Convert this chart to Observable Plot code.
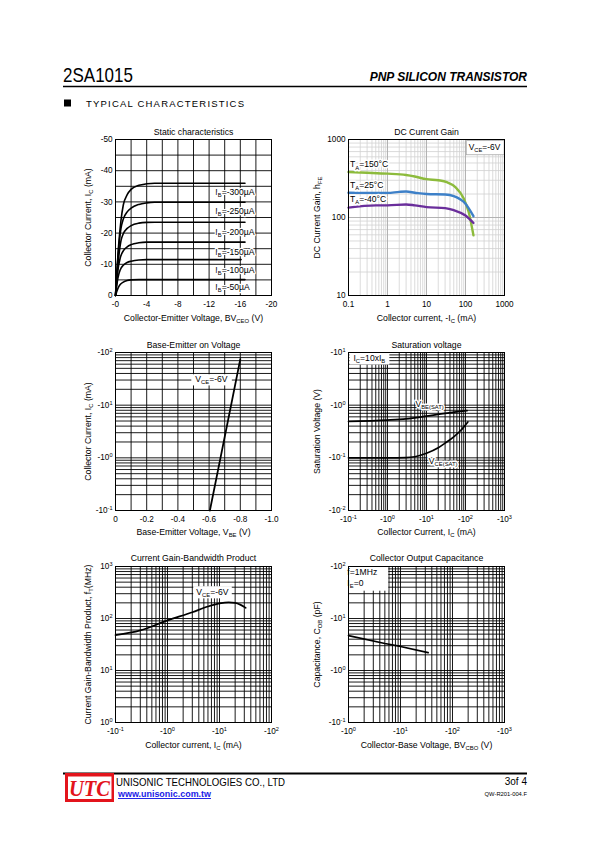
<!DOCTYPE html>
<html><head><meta charset="utf-8">
<script src="https://cdn.jsdelivr.net/npm/d3@7"></script>
<script src="https://cdn.jsdelivr.net/npm/@observablehq/plot@0.6"></script>
<style>
html,body{margin:0;padding:0;background:#fff;}
#page{position:relative;width:595px;height:842px;overflow:hidden;font-family:"Liberation Sans",Arial,Helvetica,sans-serif;}
.chart{position:absolute;}
.chart svg{overflow:visible;}
</style></head><body><div id="page"></div>
<script>
// ---------------- DATA ----------------
// Static characteristics (|VCE| V, |IC| mA)
const staticIB = ["-300", "-250", "-200", "-150", "-100", "-50"];
const vce300 = [0, 0.4, 0.7, 1.0, 1.5, 2, 3, 4, 5, 16.6];
const ic300  = [0, 16, 24, 29, 32.3, 34, 35.3, 35.8, 36, 36];
const vce250 = [0, 0.4, 0.7, 1.0, 1.5, 2, 3, 4, 5, 16.6];
const ic250  = [0, 15, 21.5, 24.5, 26.8, 28, 29.2, 29.7, 29.9, 29.9];
const vce200 = [0, 0.4, 0.7, 1.0, 1.5, 2, 3, 4, 5, 16.6];
const ic200  = [0, 12, 17.5, 19.8, 21.5, 22.4, 23.2, 23.45, 23.5, 23.5];
const vce150 = [0, 0.3, 0.6, 1.0, 1.5, 2, 3, 4, 16.6];
const ic150  = [0, 8, 12, 14.3, 15.6, 16.3, 16.9, 17.1, 17.1];
const vce100 = [0, 0.3, 0.6, 1.0, 1.5, 2, 3, 4, 16.1];
const ic100  = [0, 5.5, 8.2, 9.7, 10.6, 11, 11.4, 11.5, 11.5];
const vce50  = [0, 0.3, 0.6, 1.0, 1.5, 2, 3, 16.6];
const ic50   = [0, 2.2, 3.5, 4.3, 4.8, 5, 5.1, 5.1];
const staticLabelY = [33.1, 26.9, 20.3, 13.9, 8.0, 2.7];
const staticXTicks = [0, 4, 8, 12, 16, 20];
const staticXLabels = ["-0", "-4", "-8", "-12", "-16", "-20"];
const staticYTicks = [0, 10, 20, 30, 40, 50];
const staticYLabels = ["0", "-10", "-20", "-30", "-40", "-50"];

// DC current gain (-IC mA, hFE)
const gainTemps = ["150", "25", "-40"];
const gainIc150 = [0.1, 0.3, 1, 3, 5, 10, 20, 33, 55, 90, 121, 160];
const gainH150  = [383, 375, 365, 350, 335, 310, 300, 285, 245, 175, 117, 59];
const gainIc25  = [0.1, 0.3, 1, 2, 3, 5, 10, 30, 50, 100, 160];
const gainH25   = [208, 207, 207, 213, 215, 208, 200, 197, 188, 150, 104];
const gainIcM40 = [0.1, 0.5, 1, 3, 5, 10, 30, 50, 100, 160];
const gainHM40  = [134, 143, 143, 147, 143, 136, 132, 124, 106, 85];
const gainColors = ["#8dbb3c", "#3d80c8", "#6a2e9b"];
const gainLabelY = [475, 259, 171];
const gainXTicks = [0.1, 1, 10, 100, 1000];
const gainXLabels = ["0.1", "1", "10", "100", "1000"];
const gainYTicks = [10, 100, 1000];
const gainYLabels = ["10", "100", "1000"];

// Base-emitter on voltage (|VBE| V, |IC| mA)
const beVbe = [0.605, 0.673, 0.741, 0.80];
const beIc  = [0.1, 1, 10, 75];
const beXTicks = [0, 0.2, 0.4, 0.6, 0.8, 1.0];
const beXLabels = ["0", "-0.2", "-0.4", "-0.6", "-0.8", "-1.0"];
const logTicks4 = [0.1, 1, 10, 100];
const beYLabels = ["-10^{-1}", "-10^{0}", "-10^{1}", "-10^{2}"];

// Saturation voltage (|IC| mA, |V| V)
const vbeSatIc = [0.1, 1, 3, 10, 30, 110];
const vbeSatV  = [0.49, 0.52, 0.55, 0.62, 0.70, 0.79];
const vceSatIc = [0.1, 1, 3, 5, 10, 20, 30, 50, 75, 115];
const vceSatV  = [0.1, 0.1, 0.101, 0.105, 0.122, 0.155, 0.19, 0.25, 0.33, 0.48];
const satXTicks = [0.1, 1, 10, 100, 1000];
const satXLabels = ["-10^{-1}", "-10^{0}", "-10^{1}", "-10^{2}", "-10^{3}"];
const satYTicks = [0.01, 0.1, 1, 10];
const satYLabels = ["-10^{-2}", "-10^{-1}", "-10^{0}", "-10^{1}"];

// Current gain-bandwidth product (|IC| mA, fT MHz)
const ftIc = [0.1, 0.3, 1, 3, 6, 10, 15, 20, 25, 32];
const ftF  = [48, 59, 92, 132, 170, 195, 205, 200, 185, 160];
const ftXTicks = [0.1, 1, 10, 100];
const ftXLabels = ["-10^{-1}", "-10^{0}", "-10^{1}", "-10^{2}"];
const ftYTicks = [1, 10, 100, 1000];
const ftYLabels = ["10^{0}", "10^{1}", "10^{2}", "10^{3}"];

// Collector output capacitance (|VCB| V, Cob pF)
const cobV = [1, 5, 10, 34];
const cobC = [4.7, 3.3, 2.9, 2.2];
const cobXTicks = [1, 10, 100, 1000];
const cobXLabels = ["-10^{0}", "-10^{1}", "-10^{2}", "-10^{3}"];
const cobYTicks = [0.1, 1, 10, 56, 100];
const cobYLabels = ["-10^{-1}", "-10^{0}", "-10^{1}", "-10^{-1}", "-10^{2}"];
const cobNotes = ["f=1MHz", "I_{E}=0"];
const cobNoteY = [77.6, 48.6];

// ---------------- HELPERS ----------------
const NS = "http://www.w3.org/2000/svg";
const FONT = '"Liberation Sans", Arial, Helvetica, sans-serif';
const page = document.getElementById("page");

function decades(lo, hi) {
  const out = [];
  for (let e = lo; e < hi; e++) for (let k = 1; k < 10; k++) out.push(+(k * Math.pow(10, e)).toPrecision(6));
  out.push(Math.pow(10, hi));
  return out;
}
function steps(lo, hi, n) { const out = []; for (let i = 0; i <= n; i++) out.push(lo + (hi - lo) * i / n); return out; }

function richify(svg) {
  for (const t of svg.querySelectorAll("text")) {
    const targets = t.querySelector("tspan") ? [...t.querySelectorAll("tspan")] : [t];
    for (const n of targets) {
      const s = n.textContent;
      if (!/[_^]\{/.test(s)) continue;
      const fs = parseFloat(getComputedStyle(n).fontSize) || 8;
      while (n.firstChild) n.removeChild(n.firstChild);
      const re = /([_^])\{([^}]*)\}/g;
      let last = 0, m, cur = 0;
      const add = (str, off, small) => {
        const ts = document.createElementNS(NS, "tspan");
        if (small) ts.setAttribute("font-size", (fs * 0.68).toFixed(2));
        if (Math.abs(off - cur) > 1e-6) ts.setAttribute("dy", (off - cur).toFixed(2));
        cur = off;
        ts.textContent = str;
        n.appendChild(ts);
      };
      while ((m = re.exec(s))) {
        if (m.index > last) add(s.slice(last, m.index), 0, false);
        add(m[2], m[1] === "_" ? fs * 0.25 : -fs * 0.38, true);
        last = re.lastIndex;
      }
      if (last < s.length) add(s.slice(last), 0, false);
    }
  }
}

// boxed annotations are tagged with a distinct (visually black) constant fill
const boxSpecs = {
  "#000001": {l: 2.5, r: 3.5, t: 1.5, b: 1.5, stroke: "#aaa"},
  "#000002": {l: 4, r: 4, t: 0, b: 0},
  "#000003": {l: 3, r: 3, t: 0.5, b: 0.5},
  "#000004": {l: 4, r: 4, t: 1, b: 0.5},
  "#000005": {l: 0, r: 11, t: 1.5, b: 2}
};
function boxify(svg) {
  for (const [col, spec] of Object.entries(boxSpecs)) {
    for (const g of svg.querySelectorAll(`g[fill='${col}']`)) {
      const b = g.getBBox();
      if (!b.width) continue;
      const r = document.createElementNS(NS, "rect");
      r.setAttribute("x", b.x - spec.l);
      r.setAttribute("y", b.y - spec.t);
      r.setAttribute("width", b.width + spec.l + spec.r);
      r.setAttribute("height", b.height + spec.t + spec.b);
      r.setAttribute("fill", "white");
      r.setAttribute("stroke", spec.stroke || "none");
      r.setAttribute("stroke-width", "0.8");
      g.insertBefore(r, g.firstChild);
    }
  }
}

function chart(o) {
  const ML = 62, MR = 28, MT = 26, MB = 42;
  const fw = o.fr - o.fl, fh = o.fb - o.ft;
  const fmt = (vals, labels) => { const m = new Map(vals.map((v, i) => [v, labels[i]])); return d => m.has(d) ? m.get(d) : ""; };
  const gc = o.gridColor || "#000", gw = o.gridWidth || 0.9;
  const fig = Plot.plot({
    width: ML + fw + MR, height: MT + fh + MB,
    marginLeft: ML, marginRight: MR, marginTop: MT, marginBottom: MB,
    x: o.x, y: o.y,
    style: {fontFamily: FONT, fontSize: "8.2px", color: "black", background: "transparent", overflow: "visible"},
    marks: [
      Plot.ruleX(o.gridX, {stroke: gc, strokeWidth: gw}),
      Plot.ruleY(o.gridY, {stroke: gc, strokeWidth: gw}),
      o.gridXMajor ? Plot.ruleX(o.gridXMajor, {stroke: o.majorColor, strokeWidth: gw}) : null,
      o.gridYMajor ? Plot.ruleY(o.gridYMajor, {stroke: o.majorColor, strokeWidth: gw}) : null,
      ...o.marks,
      Plot.frame({stroke: "black", strokeWidth: 1}),
      Plot.axisX(o.xTicks, {tickFormat: fmt(o.xTicks, o.xLabels), tickSize: 0, tickPadding: 5.5, label: null, fontSize: 8.2}),
      Plot.axisY(o.yTicks, {tickFormat: fmt(o.yTicks, o.yLabels), tickSize: 0, tickPadding: 3, label: null, fontSize: 8.2}),
      Plot.text([o.title], {frameAnchor: "top", dy: o.titleDy, fontSize: 8.7}),
      Plot.text([o.xTitle], {frameAnchor: "bottom", dy: o.xTitleDy, fontSize: 8.7}),
      Plot.text([o.yTitle], {frameAnchor: "left", textAnchor: "middle", dx: o.yTitleDx, rotate: -90, fontSize: 8.7})
    ]
  });
  const d = document.createElement("div");
  d.className = "chart";
  d.style.left = (o.fl - ML) + "px";
  d.style.top = (o.ft - MT) + "px";
  d.appendChild(fig);
  page.appendChild(d);
  richify(fig);
  boxify(fig);
}

const L = {fl: 115, fr: 271}, R = {fl: 348, fr: 504};
const R1 = {ft: 139, fb: 295, titleDy: -10.5, xTitleDy: 25}, R2 = {ft: 352, fb: 510, titleDy: -11, xTitleDy: 24.5}, R3 = {ft: 566, fb: 722, titleDy: -12, xTitleDy: 25.5};

// ---------------- 1. Static characteristics ----------------
const staticCurves = [[vce300, ic300], [vce250, ic250], [vce200, ic200], [vce150, ic150], [vce100, ic100], [vce50, ic50]];
const staticRows = staticCurves.flatMap(([vs, is], k) => vs.map((v, i) => ({ib: staticIB[k], v, i: is[i]})));
const staticLabels = staticIB.map((s, k) => ({t: "I_{B}=" + s + "µA", y: staticLabelY[k]}));
chart({...L, ...R1, yTitleDx: -27,
  x: {type: "linear", domain: [0, 20]}, y: {type: "linear", domain: [0, 50]},
  gridX: steps(0, 20, 10), gridY: steps(0, 50, 10),
  xTicks: staticXTicks, xLabels: staticXLabels, yTicks: staticYTicks, yLabels: staticYLabels,
  title: "Static characteristics", xTitle: "Collector-Emitter Voltage, BV_{CEO} (V)", yTitle: "Collector Current, I_{C} (mA)",
  marks: [
    Plot.line(staticRows, {x: "v", y: "i", z: "ib", stroke: "black", strokeWidth: 1.6, curve: "monotone-x"}),
    Plot.text(staticLabels, {x: 12.8, y: "y", text: "t", textAnchor: "start", fontSize: 8.6, fill: "black", stroke: "white", strokeWidth: 2.5})
  ]
});

// ---------------- 2. DC current gain ----------------
const gainCurves = [[gainIc150, gainH150], [gainIc25, gainH25], [gainIcM40, gainHM40]];
const gainRows = gainCurves.flatMap(([xs, ys], k) => xs.map((x, i) => ({t: gainTemps[k], x, y: ys[i]})));
const gainLabels = gainTemps.map((t, k) => ({t: "T_{A}=" + t + "°C", y: gainLabelY[k]}));
chart({...R, ...R1, yTitleDx: -31,
  x: {type: "log", domain: [0.1, 1000]}, y: {type: "log", domain: [10, 1000]},
  gridX: decades(-1, 3), gridY: decades(1, 3), gridColor: "#d2d2d2", gridWidth: 0.8,
  gridXMajor: gainXTicks, gridYMajor: gainYTicks, majorColor: "#a8a8a8",
  xTicks: gainXTicks, xLabels: gainXLabels, yTicks: gainYTicks, yLabels: gainYLabels,
  title: "DC Current Gain", xTitle: "Collector current, -I_{C} (mA)", yTitle: "DC Current Gain, h_{FE}",
  marks: [
    Plot.line(gainRows, {x: "x", y: "y", z: "t", stroke: d => gainColors[gainTemps.indexOf(d.t)], strokeWidth: 2.4, curve: "monotone-x"}),
    Plot.text(gainLabels, {x: 0.1, y: "y", dx: 1.5, text: "t", textAnchor: "start", fontSize: 8.6, fill: "black", stroke: "white", strokeWidth: 3}),
    Plot.text(["V_{CE}=-6V"], {x: 307, y: 791, fontSize: 8.4, fill: "#000001"})
  ]
});

// ---------------- 3. Base-Emitter on voltage ----------------
const beRows = beVbe.map((v, i) => ({v, i: beIc[i]}));
chart({...L, ...R2, yTitleDx: -27,
  x: {type: "linear", domain: [0, 1]}, y: {type: "log", domain: [0.1, 100]},
  gridX: steps(0, 1, 10), gridY: decades(-1, 2),
  xTicks: beXTicks, xLabels: beXLabels, yTicks: logTicks4, yLabels: beYLabels,
  title: "Base-Emitter on Voltage", xTitle: "Base-Emitter Voltage, V_{BE} (V)", yTitle: "Collector Current, I_{C} (mA)",
  marks: [
    Plot.line(beRows, {x: "v", y: "i", stroke: "black", strokeWidth: 1.8}),
    Plot.text(["V_{CE}=-6V"], {x: 0.615, y: 30.7, fontSize: 8.6, fill: "#000002"})
  ]
});

// ---------------- 4. Saturation voltage ----------------
const satRows = [
  ...vbeSatIc.map((x, i) => ({s: "vbe", x, y: vbeSatV[i]})),
  ...vceSatIc.map((x, i) => ({s: "vce", x, y: vceSatV[i]}))
];
chart({...R, ...R2, yTitleDx: -31,
  x: {type: "log", domain: [0.1, 1000]}, y: {type: "log", domain: [0.01, 10]},
  gridX: decades(-1, 3), gridY: decades(-2, 1),
  xTicks: satXTicks, xLabels: satXLabels, yTicks: satYTicks, yLabels: satYLabels,
  title: "Saturation voltage", xTitle: "Collector Current, I_{C} (mA)", yTitle: "Saturation Voltage (V)",
  marks: [
    Plot.line(satRows, {x: "x", y: "y", z: "s", stroke: "black", strokeWidth: 1.7, curve: "monotone-x"}),
    Plot.text(["V_{BE(SAT)}", "V_{CE(SAT)}"], {x: [5.2, 11.5], y: [1.06, 0.085], textAnchor: "start", fontSize: 8.6, fill: "black", stroke: "white", strokeWidth: 3}),
    Plot.text(["I_{C}=10xI_{B}"], {x: 0.134, y: 7.8, textAnchor: "start", fontSize: 8.6, fill: "#000004"})
  ]
});

// ---------------- 5. Current gain-bandwidth product ----------------
const ftRows = ftIc.map((x, i) => ({x, y: ftF[i]}));
chart({...L, ...R3, yTitleDx: -27,
  x: {type: "log", domain: [0.1, 100]}, y: {type: "log", domain: [1, 1000]},
  gridX: decades(-1, 2), gridY: decades(0, 3),
  xTicks: ftXTicks, xLabels: ftXLabels, yTicks: ftYTicks, yLabels: ftYLabels,
  title: "Current Gain-Bandwidth Product", xTitle: "Collector current, I_{C} (mA)", yTitle: "Current Gain-Bandwidth Product, f_{T}(MHz)",
  marks: [
    Plot.line(ftRows, {x: "x", y: "y", stroke: "black", strokeWidth: 1.7, curve: "monotone-x"}),
    Plot.text(["V_{CE}=-6V"], {x: 7.3, y: 324, fontSize: 8.6, fill: "#000003"})
  ]
});

// ---------------- 6. Collector output capacitance ----------------
const cobRows = cobV.map((x, i) => ({x, y: cobC[i]}));
chart({...R, ...R3, yTitleDx: -31,
  x: {type: "log", domain: [1, 1000]}, y: {type: "log", domain: [0.1, 100]},
  gridX: decades(0, 3), gridY: decades(-1, 2),
  xTicks: cobXTicks, xLabels: cobXLabels, yTicks: cobYTicks, yLabels: cobYLabels,
  title: "Collector Output Capacitance", xTitle: "Collector-Base Voltage, BV_{CBO} (V)", yTitle: "Capacitance, C_{OB} (pF)",
  marks: [
    Plot.line(cobRows, {x: "x", y: "y", stroke: "black", strokeWidth: 1.7}),
    Plot.text(cobNotes, {x: 0.95, y: cobNoteY, textAnchor: "start", fontSize: 8.6, fill: "#000005"})
  ]
});

// ---------------- Header & footer ----------------
const hf = document.createElementNS(NS, "svg");
hf.setAttribute("width", 595); hf.setAttribute("height", 842);
hf.setAttribute("style", "position:absolute;left:0;top:0;pointer-events:none");
hf.innerHTML = `
<g font-family='"Liberation Sans", Arial, sans-serif' fill="black">
  <text x="63" y="82" font-size="21" textLength="70" lengthAdjust="spacingAndGlyphs">2SA1015</text>
  <text x="527" y="81" font-size="12" font-weight="bold" font-style="italic" text-anchor="end">PNP SILICON TRANSISTOR</text>
  <line x1="63" x2="527" y1="86.5" y2="86.5" stroke="black" stroke-width="1.4"/>
  <rect x="64" y="99.5" width="7" height="7"/>
  <text x="86" y="107" font-size="9.5" letter-spacing="1.2">TYPICAL CHARACTERISTICS</text>
  <line x1="63" x2="527" y1="773.5" y2="773.5" stroke="black" stroke-width="2"/>
  <rect x="65" y="773" width="49" height="29" fill="#e3141c"/>
  <rect x="68" y="776.5" width="43.5" height="22.5" fill="white"/>
  <text x="69" y="796" font-family='"Liberation Serif", "Times New Roman", serif' font-weight="bold" font-style="italic" font-size="24" fill="#e3141c" textLength="41" lengthAdjust="spacingAndGlyphs">UTC</text>
  <text x="116" y="786" font-size="11" textLength="169" lengthAdjust="spacingAndGlyphs">UNISONIC TECHNOLOGIES CO., LTD</text>
  <text x="118" y="797" font-size="9.5" font-weight="bold" fill="#1a1ae6" text-decoration="underline" textLength="93" lengthAdjust="spacingAndGlyphs">www.unisonic.com.tw</text>
  <text x="527" y="785" font-size="10" text-anchor="end">3of 4</text>
  <text x="527" y="796" font-size="5.8" text-anchor="end">QW-R201-004.F</text>
</g>`;
page.appendChild(hf);
</script></body></html>
